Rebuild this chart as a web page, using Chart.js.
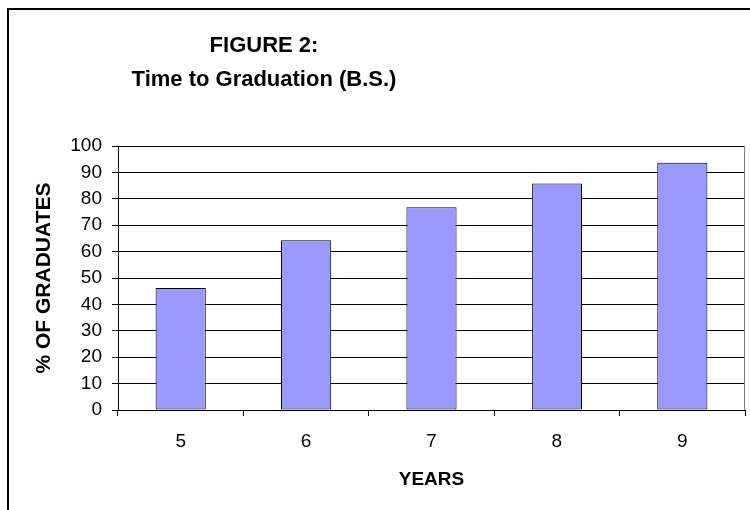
<!DOCTYPE html>
<html>
<head>
<meta charset="utf-8">
<script src="https://cdn.jsdelivr.net/npm/chart.js@4/dist/chart.umd.min.js"></script>
<style>
  html, body { margin: 0; padding: 0; background: #fff; overflow: hidden; }
  #wrap { position: relative; width: 750px; height: 510px; }
  #frame { position: absolute; left: 7px; top: 8px; width: 900px; height: 700px; border-left: 2px solid #000; border-top: 2px solid #000; pointer-events: none; }
  canvas { position: absolute; left: 0; top: 0; }
</style>
</head>
<body>
<div id="wrap">
  <canvas id="c" width="750" height="510"></canvas>
  <div id="frame"></div>
</div>
<script>
const titleLines = ["FIGURE 2:", "Time to Graduation (B.S.)"];
const categories = ["5", "6", "7", "8", "9"];
const graduatesPct = [46.2, 64.3, 76.8, 85.8, 93.7];
const yTicks = [0, 10, 20, 30, 40, 50, 60, 70, 80, 90, 100];
const xAxisTitle = "YEARS";
const yAxisTitle = "% OF GRADUATES";

const FONT = "'Liberation Sans', Arial, Helvetica, sans-serif";

const titlePlugin = {
  id: 'figTitle',
  afterDraw(chart) {
    const ctx = chart.ctx;
    ctx.save();
    ctx.fillStyle = '#000';
    ctx.font = 'bold 22px ' + FONT;
    ctx.textAlign = 'center';
    ctx.textBaseline = 'alphabetic';
    ctx.fillText(titleLines[0], 264, 52);
    ctx.fillText(titleLines[1], 264, 86);
    ctx.restore();
  }
};

const borderPlugin = {
  id: 'plotBorder',
  afterDatasetsDraw(chart) {
    const {ctx, chartArea} = chart;
    ctx.save();
    ctx.strokeStyle = '#808080';
    ctx.lineWidth = 1;
    ctx.beginPath();
    ctx.moveTo(Math.round(chartArea.right) - 0.5, chartArea.top);
    ctx.lineTo(Math.round(chartArea.right) - 0.5, chartArea.bottom);
    ctx.stroke();
    ctx.restore();
  }
};

new Chart(document.getElementById('c'), {
  type: 'bar',
  data: {
    labels: categories,
    datasets: [{
      data: graduatesPct,
      backgroundColor: '#9999FF',
      borderColor: '#000000',
      borderWidth: 1,
      borderSkipped: false,
      categoryPercentage: 1.0,
      barPercentage: 0.4
    }]
  },
  options: {
    responsive: false,
    animation: false,
    devicePixelRatio: 1,
    layout: { padding: { left: 0, right: 5, top: 146, bottom: 0 } },
    plugins: {
      legend: { display: false },
      title: { display: false },
      tooltip: { enabled: false }
    },
    scales: {
      x: {
        grid: {
          display: true,
          offset: true,
          drawOnChartArea: false,
          drawTicks: true,
          tickLength: 6,
          color: '#000'
        },
        border: { display: true, color: '#000', width: 1 },
        ticks: {
          color: '#000',
          font: { family: FONT, size: 19 },
          padding: 14,
          maxRotation: 0
        },
        title: {
          display: true,
          text: xAxisTitle,
          color: '#000',
          font: { family: FONT, size: 19, weight: 'bold' },
          padding: { top: 0, bottom: 19 }
        },
        afterFit(scale) { scale.height = 100; }
      },
      y: {
        min: 0,
        max: 100,
        afterBuildTicks(scale) { scale.ticks = yTicks.map(v => ({ value: v })); },
        grid: {
          color: '#000',
          lineWidth: 1,
          drawTicks: true,
          tickLength: 6
        },
        border: { display: true, color: '#000', width: 1 },
        ticks: {
          color: '#000',
          font: { family: FONT, size: 19 },
          padding: 10
        },
        title: {
          display: true,
          text: yAxisTitle,
          color: '#000',
          font: { family: FONT, size: 21, weight: 'bold' },
          padding: { top: 32, bottom: 0 }
        },
        afterFit(scale) { scale.width = 118; }
      }
    }
  },
  plugins: [titlePlugin, borderPlugin]
});
</script>
</body>
</html>
